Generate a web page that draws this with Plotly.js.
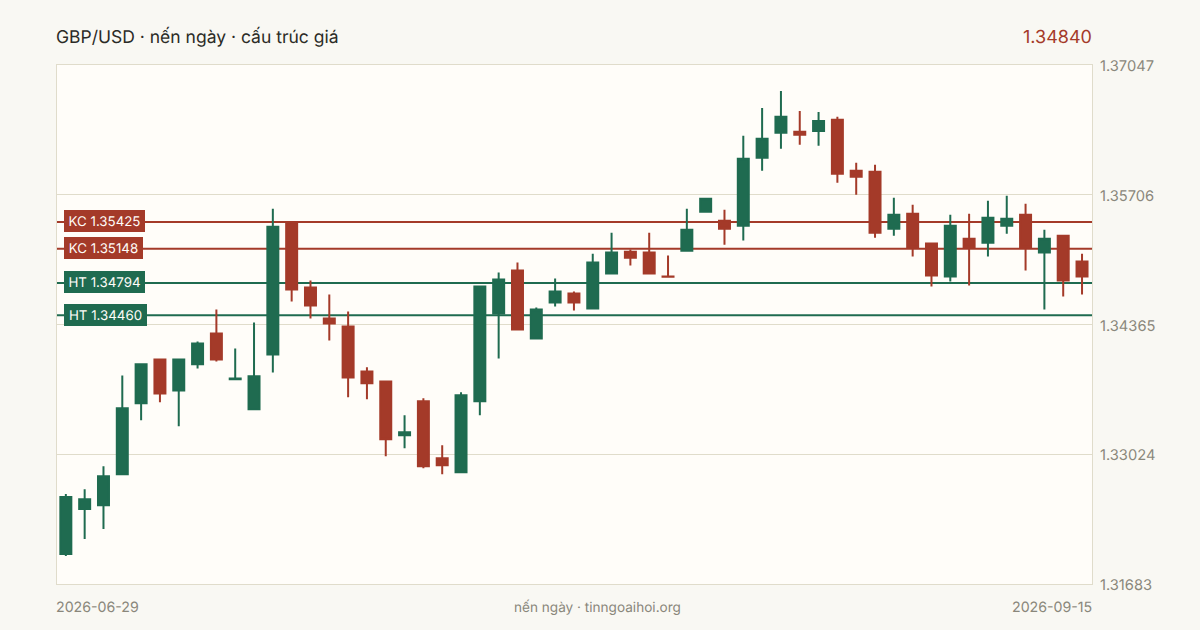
<!DOCTYPE html>
<html>
<head>
<meta charset="utf-8">
<script src="https://cdn.plot.ly/plotly-3.0.1.min.js"></script>
<style>
  html, body { margin: 0; padding: 0; background: #f9f8f3; }
  #chart { width: 1200px; height: 630px; }
  #chart text { text-rendering: geometricPrecision !important; font-kerning: normal; }
</style>
</head>
<body>
<div id="chart"></div>
<script>
const opens = [1.31993, 1.32457, 1.32498, 1.32818, 1.33550, 1.34004, 1.33684, 1.33953, 1.34272, 1.33798, 1.33488,
  1.34056, 1.35417, 1.34747, 1.34427, 1.34345, 1.33880, 1.33777, 1.33220, 1.33571, 1.32983, 1.32839,
  1.33571, 1.34479, 1.34922, 1.34221, 1.34592, 1.34685, 1.34530, 1.34891, 1.35118, 1.35108, 1.34860,
  1.35128, 1.35531, 1.35438, 1.35386, 1.36088, 1.36346, 1.36356, 1.36366, 1.36480, 1.35954, 1.35943,
  1.35355, 1.35510, 1.35201, 1.34860, 1.35252, 1.35211, 1.35386, 1.35500, 1.35108, 1.35283, 1.35015];
const highs = [1.32612, 1.32663, 1.32900, 1.33839, 1.33963, 1.34004, 1.34004, 1.34190, 1.34520, 1.34118, 1.34386,
  1.35562, 1.35417, 1.34819, 1.34675, 1.34499, 1.33922, 1.33777, 1.33426, 1.33602, 1.33117, 1.33664,
  1.34757, 1.34902, 1.35005, 1.34541, 1.34840, 1.34705, 1.35097, 1.35314, 1.35139, 1.35314, 1.35077,
  1.35562, 1.35665, 1.35551, 1.36315, 1.36603, 1.36779, 1.36572, 1.36562, 1.36511, 1.36036, 1.36016,
  1.35675, 1.35603, 1.35201, 1.35500, 1.35510, 1.35644, 1.35696, 1.35613, 1.35345, 1.35283, 1.35097];
const lows = [1.31972, 1.32147, 1.32251, 1.32818, 1.33375, 1.33561, 1.33313, 1.33911, 1.33983, 1.33798, 1.33488,
  1.33870, 1.34602, 1.34427, 1.34200, 1.33612, 1.33592, 1.33004, 1.33086, 1.32880, 1.32818, 1.32839,
  1.33426, 1.34014, 1.34314, 1.34221, 1.34551, 1.34510, 1.34530, 1.34891, 1.34974, 1.34891, 1.34859,
  1.35128, 1.35531, 1.35190, 1.35232, 1.35954, 1.36181, 1.36222, 1.36212, 1.35830, 1.35706, 1.35262,
  1.35283, 1.35067, 1.34757, 1.34809, 1.34767, 1.35067, 1.35304, 1.34922, 1.34520, 1.34654, 1.34675];
const closes = [1.32581, 1.32560, 1.32797, 1.33499, 1.33953, 1.33653, 1.34004, 1.34169, 1.34004, 1.33808, 1.33829,
  1.35376, 1.34726, 1.34561, 1.34375, 1.33818, 1.33757, 1.33179, 1.33251, 1.32900, 1.32911, 1.33633,
  1.34757, 1.34829, 1.34314, 1.34520, 1.34705, 1.34592, 1.35005, 1.35108, 1.35056, 1.34891, 1.34859,
  1.35345, 1.35665, 1.35355, 1.36077, 1.36284, 1.36511, 1.36325, 1.36469, 1.35923, 1.35892, 1.35314,
  1.35500, 1.35159, 1.34871, 1.35386, 1.35159, 1.35469, 1.35459, 1.35159, 1.35252, 1.34819, 1.34860];

// vung khang cu / ho tro
const levelNames = ["KC", "KC", "HT", "HT"];
const levelValues = [1.35425, 1.35148, 1.34794, 1.34460];
const priceTicks = [1.37047, 1.35706, 1.34365, 1.33024, 1.31683];

const GREEN = "#1f6b50";
const RED = "#a43a29";
const GREY = "#8a877b";
const FONT = "Inter, sans-serif";

const sessions = opens.map((_, i) => i);
const labelWidths = [81, 79, 81, 83];

const shapes = levelValues.map((v, i) => ({
  type: "line", xref: "paper", x0: 0, x1: 1, yref: "y", y0: v, y1: v,
  layer: "below",
  line: { color: levelNames[i] === "KC" ? RED : GREEN, width: 2 }
}));

const labels = levelValues.map((v, i) => ({
  xref: "paper", x: 7.5 / 1036, xanchor: "left",
  yref: "y", y: v, yanchor: "middle", yshift: 0.5,
  text: levelNames[i] + " " + v.toFixed(5),
  showarrow: false,
  width: labelWidths[i],
  height: 22,
  align: "center",
  valign: "middle",
  borderpad: 0,
  borderwidth: 0,
  bgcolor: levelNames[i] === "KC" ? RED : GREEN,
  font: { family: FONT, size: 13.3, color: "#fffdf9" }
}));

function pageText(text, x, y, anchor, size, color) {
  return {
    xref: "paper", yref: "paper", x: x, y: y, xanchor: anchor, yanchor: "middle",
    text: text, showarrow: false, borderpad: 0, font: { family: FONT, size: size, color: color }
  };
}

// toa do paper tinh theo vung ve 1036 x 520
const textNotes = [
  pageText("GBP/USD · nến ngày · cấu trúc giá", -2.5 / 1036, 1 + 29 / 520, "left", 17.5, "#2b2b26"),
  pageText("1.34840", 1 + 1 / 1036, 1 + 29 / 520, "right", 18, RED),
  pageText("2026-06-29", -2.5 / 1036, -23 / 520, "left", 14.2, GREY),
  pageText("nến ngày · tinngoaihoi.org", 541 / 1036, -23 / 520, "center", 13.6, GREY),
  pageText("2026-09-15", 1 + 1 / 1036, -23 / 520, "right", 14.2, GREY)
];

Plotly.newPlot(
  "chart",
  [{
    type: "candlestick",
    x: sessions,
    open: opens,
    high: highs,
    low: lows,
    close: closes,
    whiskerwidth: 0,
    increasing: { line: { color: GREEN, width: 2 }, fillcolor: GREEN },
    decreasing: { line: { color: RED, width: 2 }, fillcolor: RED },
    hoverinfo: "skip"
  }],
  {
    width: 1200,
    height: 630,
    margin: { l: 56.5, r: 107.5, t: 64.5, b: 45.5, pad: 0 },
    paper_bgcolor: "#f9f8f3",
    plot_bgcolor: "#fffdf9",
    showlegend: false,
    boxgap: 0.416,
    boxgroupgap: 0,
    xaxis: {
      type: "linear",
      range: [-0.47, 54.53],
      rangeslider: { visible: false },
      showgrid: false,
      zeroline: false,
      showticklabels: false,
      ticks: "",
      showline: true,
      mirror: true,
      linecolor: "#e0dccb",
      linewidth: 1
    },
    yaxis: {
      side: "right",
      range: [1.31683, 1.37047],
      tickmode: "array",
      tickvals: priceTicks,
      ticktext: priceTicks.map(p => p.toFixed(5)),
      ticks: "",
      ticklabelstandoff: 4,
      ticklabelshift: 1,
      tickfont: { family: FONT, size: 14.7, color: GREY },
      gridcolor: "#e0dccb",
      gridwidth: 1,
      zeroline: false,
      showline: true,
      mirror: true,
      linecolor: "#e0dccb",
      linewidth: 1
    },
    shapes: shapes,
    annotations: labels.concat(textNotes)
  },
  { displayModeBar: false, responsive: false }
);
</script>
</body>
</html>
